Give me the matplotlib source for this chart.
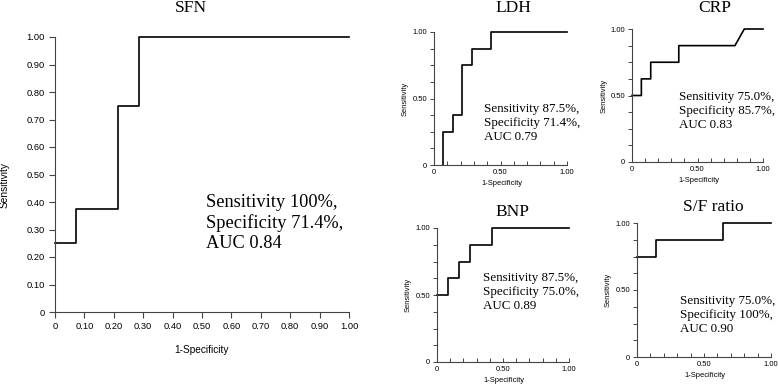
import matplotlib
matplotlib.use("Agg")
import matplotlib.pyplot as plt
import numpy as np

# ROC step curves (x = 1-specificity, y = sensitivity)
sfn_x = [0, 1/14, 1/14, 3/14, 3/14, 4/14, 4/14, 1.0]
sfn_y = [0.25, 0.25, 0.375, 0.375, 0.75, 0.75, 1.0, 1.0]

ldh_x = [1/14, 1/14, 2/14, 2/14, 3/14, 3/14, 4/14, 4/14, 6/14, 6/14, 1.0]
ldh_y = [0.0, 0.25, 0.25, 0.375, 0.375, 0.75, 0.75, 0.875, 0.875, 1.0, 1.0]

crp_x = [0, 1/14, 1/14, 2/14, 2/14, 5/14, 5/14, 11/14, 12/14, 1.0]
crp_y = [0.5, 0.5, 0.625, 0.625, 0.75, 0.75, 0.875, 0.875, 1.0, 1.0]

bnp_x = [0, 1/12, 1/12, 2/12, 2/12, 3/12, 3/12, 5/12, 5/12, 1.0]
bnp_y = [0.5, 0.5, 0.625, 0.625, 0.75, 0.75, 0.875, 0.875, 1.0, 1.0]

sf_x = [0, 2/14, 2/14, 9/14, 9/14, 1.0]
sf_y = [0.75, 0.75, 0.875, 0.875, 1.0, 1.0]

titles = ["SFN", "LDH", "CRP", "BNP", "S/F ratio"]
notes = [
    "Sensitivity 100%,\nSpecificity 71.4%,\nAUC 0.84",
    "Sensitivity 87.5%,\nSpecificity 71.4%,\nAUC 0.79",
    "Sensitivity 75.0%,\nSpecificity 85.7%,\nAUC 0.83",
    "Sensitivity 87.5%,\nSpecificity 75.0%,\nAUC 0.89",
    "Sensitivity 75.0%,\nSpecificity 100%,\nAUC 0.90",
]

W, H = 778, 384
SERIF = "Liberation Serif"
SANS = "Liberation Sans"
plt.rcParams['font.family'] = SANS

fig = plt.figure(figsize=(W / 100, H / 100), dpi=100)


def px_axes(left, top, right, bottom):
    # axes box given in pixel coordinates of the picture
    return fig.add_axes([left / W, 1 - bottom / H, (right - left) / W, (bottom - top) / H])


def fig_text(x, y, s, **kw):
    fig.text(x / W, 1 - y / H, s, **kw)


def style(ax, lw=0.8):
    for side in ("top", "right"):
        ax.spines[side].set_visible(False)
    for side in ("left", "bottom"):
        ax.spines[side].set_color("#444444")
        ax.spines[side].set_linewidth(lw)
    ax.set_xlim(0, 1)
    ax.set_ylim(0, 1)


# --- big SFN panel
ax = px_axes(55, 37, 349, 312)
style(ax)
ax.plot(sfn_x, sfn_y, color="black", lw=1.2, clip_on=False)
ticks = np.round(np.arange(0, 1.01, 0.1), 2)
labels = ["0"] + [f"{t:.2f}" for t in ticks[1:]]
ax.set_xticks(ticks)
ax.set_xticklabels(labels)
ax.set_yticks(ticks)
ax.set_yticklabels(labels)
ax.tick_params(direction="out", length=4.5, width=0.8, color="#444444",
               labelsize=6.7, pad=3)
ax.set_xlabel("1-Specificity", fontsize=7.3)
ax.set_ylabel("Sensitivity", fontsize=7.3)
ax.xaxis.set_label_coords(0.5, -0.12)
ax.yaxis.set_label_coords(-0.155, 0.46)
fig_text(191, 8, titles[0], family=SERIF, fontsize=12.5, ha="center", va="center")
fig_text(206, 223, notes[0], family=SERIF, fontsize=13.2, ha="left", va="center",
         linespacing=1.2)

# --- four small panels
small = [
    ((434, 32, 567, 165), ldh_x, ldh_y, titles[1], notes[1], (513, 8), (484, 123)),
    ((632, 29, 763, 162), crp_x, crp_y, titles[2], notes[2], (715, 8), (679, 111)),
    ((437, 228, 569, 362), bnp_x, bnp_y, titles[3], notes[3], (512, 212), (483, 292)),
    ((637, 223, 771, 357), sf_x, sf_y, titles[4], notes[4], (713, 207), (680, 315)),
]

for box, xs, ys, title, note, tpos, npos in small:
    ax = px_axes(*box)
    style(ax)
    ax.plot(xs, ys, color="black", lw=1.2, clip_on=False)
    ax.set_xticks([0, 0.5, 1])
    ax.set_xticklabels(["0", "0.50", "1.00"])
    ax.set_yticks([0, 0.5, 1])
    ax.set_yticklabels(["0", "0.50", "1.00"])
    ax.set_xticks(np.arange(0, 1.01, 0.1), minor=True)
    ax.set_yticks(np.arange(0, 1.01, 0.125), minor=True)
    ax.tick_params(axis="x", which="both", direction="in", length=3, width=0.7,
                   color="#444444", labelsize=5.5, pad=3)
    ax.tick_params(axis="y", which="both", direction="out", length=3, width=0.7,
                   color="#444444", labelsize=5.5, pad=2)
    ax.set_xlabel("1-Specificity", fontsize=5.4)
    ax.set_ylabel("Sensitivity", fontsize=5.4)
    ax.xaxis.set_label_coords(0.51, -0.115)
    ax.yaxis.set_label_coords(-0.19, 0.5)
    fig_text(tpos[0], tpos[1], title, family=SERIF, fontsize=12.5,
             ha="center", va="center")
    fig_text(npos[0], npos[1], note, family=SERIF, fontsize=9.4, ha="left",
             va="center", linespacing=1.2)

fig.savefig("out.png", dpi=100)
